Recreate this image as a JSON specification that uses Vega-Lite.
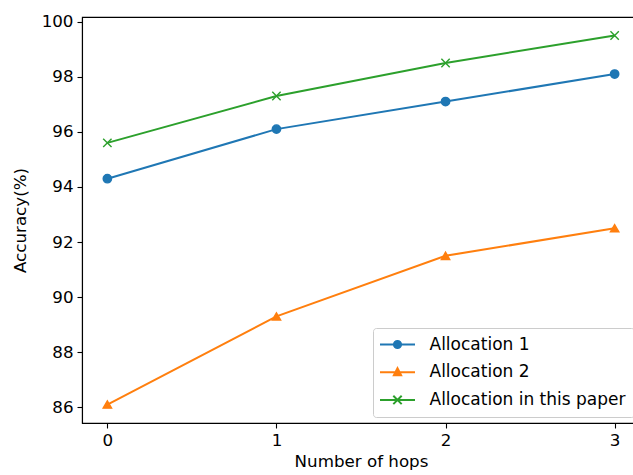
{
  "$schema": "https://vega.github.io/schema/vega-lite/v6.json",
  "autosize": {"type": "none"},
  "padding": {"left": 82, "top": 17, "right": 0, "bottom": 52},
  "width": 558,
  "height": 406,
  "background": "white",
  "config": {
    "font": "DejaVu Sans",
    "view": {"stroke": "black", "strokeWidth": 1.1},
    "axis": {
      "grid": false,
      "domainColor": "black",
      "domainWidth": 1.1,
      "tickColor": "black",
      "tickWidth": 1.1,
      "tickSize": 5,
      "labelColor": "black",
      "titleColor": "black",
      "labelFont": "DejaVu Sans",
      "titleFont": "DejaVu Sans",
      "labelFontSize": 16.7,
      "titleFontSize": 16.7,
      "titleFontWeight": "normal",
      "labelPadding": 4
    }
  },
  "data": {
    "values": [
      {"hops": 0, "accuracy": 94.3, "series": "Allocation 1"},
      {"hops": 1, "accuracy": 96.1, "series": "Allocation 1"},
      {"hops": 2, "accuracy": 97.1, "series": "Allocation 1"},
      {"hops": 3, "accuracy": 98.1, "series": "Allocation 1"},
      {"hops": 0, "accuracy": 86.1, "series": "Allocation 2"},
      {"hops": 1, "accuracy": 89.3, "series": "Allocation 2"},
      {"hops": 2, "accuracy": 91.5, "series": "Allocation 2"},
      {"hops": 3, "accuracy": 92.5, "series": "Allocation 2"},
      {"hops": 0, "accuracy": 95.6, "series": "Allocation in this paper"},
      {"hops": 1, "accuracy": 97.3, "series": "Allocation in this paper"},
      {"hops": 2, "accuracy": 98.5, "series": "Allocation in this paper"},
      {"hops": 3, "accuracy": 99.5, "series": "Allocation in this paper"}
    ]
  },
  "encoding": {
    "x": {
      "field": "hops", "type": "quantitative",
      "scale": {"domain": [-0.15, 3.15], "nice": false, "zero": false},
      "axis": {"values": [0, 1, 2, 3], "format": "d", "title": "Number of hops", "titlePadding": 5}
    },
    "y": {
      "field": "accuracy", "type": "quantitative",
      "scale": {"domain": [85.43, 100.17], "nice": false, "zero": false},
      "axis": {"values": [86, 88, 90, 92, 94, 96, 98, 100], "title": "Accuracy(%)", "titlePadding": 12}
    },
    "color": {
      "field": "series", "type": "nominal",
      "scale": {
        "domain": ["Allocation 1", "Allocation 2", "Allocation in this paper"],
        "range": ["#1f77b4", "#ff7f0e", "#2ca02c"]
      },
      "legend": {
        "title": null,
        "orient": "none",
        "legendX": 291,
        "legendY": 311,
        "padding": 8,
        "fillColor": "rgba(255,255,255,0.8)",
        "strokeColor": "#cccccc",
        "cornerRadius": 3,
        "labelFont": "DejaVu Sans",
        "labelFontSize": 17,
        "labelColor": "black",
        "labelLimit": 400,
        "labelOffset": 23.5,
        "symbolOffset": 8,
        "symbolSize": 64,
        "rowPadding": 9.7,
        "encode": {
          "symbols": {
            "update": {
              "shape": {"signal": "datum.value === 'Allocation 1' ? 'M-4.375,0H4.375M-0.9,0A0.9,0.9,0,1,0,0.9,0A0.9,0.9,0,1,0,-0.9,0Z' : datum.value === 'Allocation 2' ? 'M-4.375,0H4.375M0,-1L0.9,0.75L-0.9,0.75Z' : 'M-4.375,0H4.375M-1.05,-1.05L1.05,1.05M-1.05,1.05L1.05,-1.05'"},
              "fill": {"signal": "scale('color', datum.value)"},
              "stroke": {"signal": "scale('color', datum.value)"},
              "strokeWidth": {"value": 2},
              "size": {"value": 64},
              "opacity": {"value": 1},
              "fillOpacity": {"value": 1},
              "strokeOpacity": {"value": 1}
            }
          }
        }
      }
    }
  },
  "layer": [
    {
      "mark": {"type": "line", "strokeWidth": 2}
    },
    {
      "transform": [{"filter": "datum.series === 'Allocation 1'"}],
      "mark": {"type": "point", "shape": "circle", "filled": true, "opacity": 1, "size": 70, "strokeWidth": 1.4, "stroke": "#1f77b4"}
    },
    {
      "transform": [{"filter": "datum.series === 'Allocation 2'"}],
      "mark": {"type": "point", "shape": "triangle-up", "filled": true, "opacity": 1, "size": 70, "strokeWidth": 1.4, "stroke": "#ff7f0e"}
    },
    {
      "transform": [{"filter": "datum.series === 'Allocation in this paper'"}],
      "mark": {"type": "point", "shape": "M-1,-1L1,1M-1,1L1,-1", "filled": false, "opacity": 1, "size": 70, "strokeWidth": 1.4}
    }
  ]
}
